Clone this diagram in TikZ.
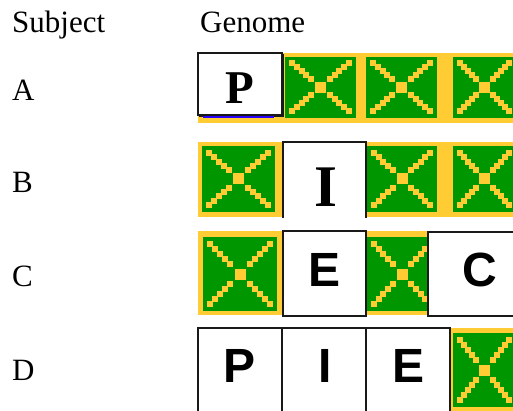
\documentclass[tikz,border=0pt]{standalone}
\usepackage{fontspec}
\setmainfont{Liberation Serif}
\newfontfamily\boxsans{Liberation Sans}
\definecolor{tilegreen}{RGB}{0,150,0}
\definecolor{tileyellow}{RGB}{255,204,51}
\definecolor{markblue}{RGB}{40,0,255}
\definecolor{boxline}{RGB}{25,25,25}

% green tile with a stepped yellow cross: name, x1, y1, x2, y2
\newcommand\greentile[5]{%
  \fill[tilegreen] (#2,#3) rectangle (#4,#5);
  \coordinate (#1) at ({(#2+#4)/2},{(#3+#5)/2});
  \begin{scope}
    \clip (#2,#3) rectangle (#4,#5);
    \foreach \k in {1,2,3,4,5,9,10,11,12,13} {
      \pgfmathsetmacro\tx{#2+2.5+(#4-#2-5)*\k/14}
      \pgfmathsetmacro\ty{#3+2.5+(#5-#3-5)*\k/14}
      \pgfmathsetmacro\uy{#5-2.5-(#5-#3-5)*\k/14}
      \fill[tileyellow] (\tx-3,\ty-3) rectangle (\tx+3,\ty+3);
      \fill[tileyellow] (\tx-3,\uy-3) rectangle (\tx+3,\uy+3);
    }
    \fill[tileyellow] (#1) +(-5.5,-5.5) rectangle +(5.5,5.5);
  \end{scope}
}

\tikzset{
  heading/.style={font=\fontsize{31}{36}\selectfont, inner sep=0, anchor=base west},
  serifletter/.style={font=\bfseries\fontsize{47}{50}\selectfont, inner sep=0, anchor=base},
  sansletter/.style={font=\boxsans\bfseries\fontsize{48}{50}\selectfont, inner sep=0, anchor=base},
  letterbox/.style={fill=white, draw=boxline, line width=1.3pt},
  band/.style={fill=tileyellow},
}

\begin{document}
\begin{tikzpicture}[x=1pt,y=-1pt]
\useasboundingbox (0,0) rectangle (513,411);
\clip (0,0) rectangle (513,411);

% headings
\node[heading] (subj) at (12,33) {Subject};
\node[heading] (geno) at (200,33) {Genome};
\node[heading] (la) at (12,101) {A};
\node[heading] (lb) at (12,193) {B};
\node[heading] (lc) at (12,286) {C};
\node[heading] (ld) at (12,380) {D};

% yellow backgrounds of the tiles
\fill[band] (198,53) rectangle (513,123);
\fill[band] (198,142) rectangle (282,217);
\fill[band] (366,142) rectangle (513,217);
\fill[band] (198,231) rectangle (282,315);
\fill[band] (366,231) rectangle (428,315);
\fill[band] (450,328) rectangle (513,411);

% row A
\greentile{a2}{285}{57}{356}{118}
\greentile{a3}{366}{57}{437}{118}
\greentile{a4}{453}{57}{516}{118}
% row B
\greentile{b1}{202}{146}{275}{212}
\greentile{b3}{367}{146}{437}{212}
\greentile{b4}{453}{146}{516}{212}
% row C
\greentile{c1}{203}{237}{277}{311}
\greentile{c3}{367}{237}{437}{311}
% row D
\greentile{d4}{453}{333}{516}{407}

% white letter boxes
\draw[letterbox] (198,53) rectangle (282,115);
\draw[boxline, line width=1pt] (199,116.2) -- (283,116.2) -- (283,54);
\draw[markblue, line width=2pt] (203,117.5) -- (274,117.5);
\fill[white] (283,142) rectangle (366,218);
\draw[boxline, line width=1.3pt] (283,218) -- (283,142) -- (366,142) -- (366,218);
\draw[letterbox] (283,231) rectangle (366,316);
\draw[letterbox] (428,232) rectangle (520,316);
\draw[letterbox] (198,328) rectangle (282,415);
\draw[letterbox] (282,328) rectangle (366,415);
\draw[letterbox] (366,328) rectangle (450,415);

% letters
\node[serifletter] (pa) at (240,104) {P};
\node[serifletter, font=\bfseries\fontsize{59}{62}\selectfont] (ib) at (326,207) {I};
\node[sansletter] (ec) at (325,286) {E};
\node[sansletter] (cc) at (480,286) {C};
\node[sansletter] (pd) at (240,382) {P};
\node[sansletter] (id) at (325,382) {I};
\node[sansletter] (ed) at (408,382) {E};
\end{tikzpicture}
\end{document}
